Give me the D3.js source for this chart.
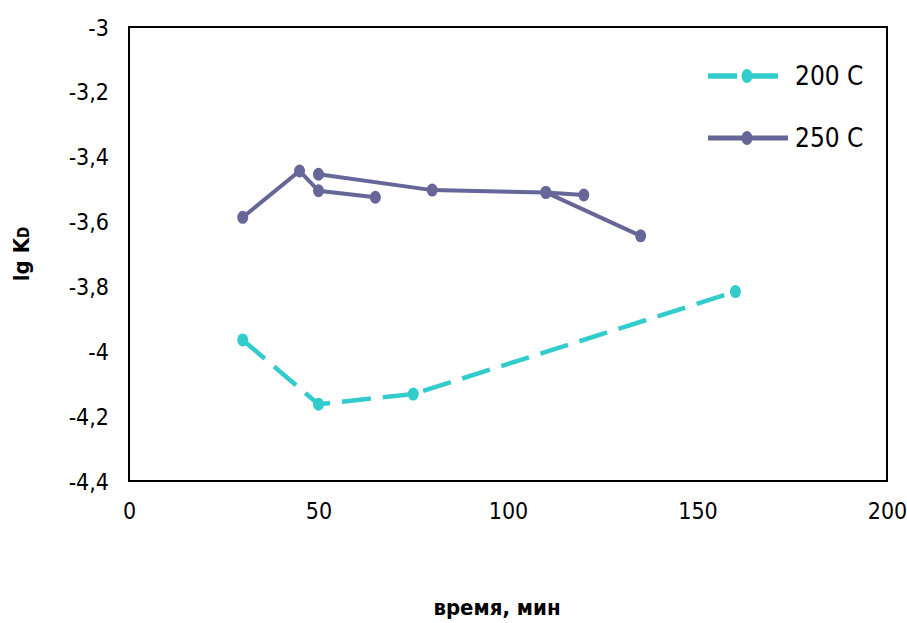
<!DOCTYPE html>
<html>
<head>
<meta charset="utf-8">
<script src="https://cdn.jsdelivr.net/npm/d3@7"></script>
<style>
  body { margin: 0; background: #fff; }
  svg text { font-family: "Liberation Sans Narrow", "DejaVu Sans Condensed", "Liberation Sans", sans-serif; fill: #000; }
</style>
</head>
<body>
<svg id="chart" width="907" height="623"></svg>
<script>
// series 200 C (dashed)
const x200 = [30, 50, 75, 160];
const y200 = [-3.965, -4.163, -4.132, -3.816];
// series 250 C (solid); null breaks the line like empty cells in the sheet
const x250 = [30, 45, 50, 65, null, 50, 80, 110, 120, null, 110, 135];
const y250 = [-3.587, -3.444, -3.505, -3.525, null, -3.454, -3.503, -3.51, -3.518, null, -3.51, -3.644];
const xTicks = [0, 50, 100, 150, 200];
const yTicks = [-3, -3.2, -3.4, -3.6, -3.8, -4, -4.2, -4.4];
const seriesNames = ['200 C', '250 C'];

const margin = { top: 27, right: 20, bottom: 142, left: 129 };
const width = 887 - margin.left;
const height = 481 - margin.top;

const svg = d3.select('#chart');
const g = svg.append('g').attr('transform', `translate(${margin.left},${margin.top})`);

const xScale = d3.scaleLinear().domain([0, 200]).range([0, width]);
const yScale = d3.scaleLinear().domain([-4.4, -3]).range([height, 0]);
const fmt = d => String(d).replace('.', ',');

// frame
g.append('rect')
    .attr('width', width)
    .attr('height', height)
    .attr('fill', 'none')
    .attr('stroke', '#000')
    .attr('stroke-width', 2);

// axes labels (no tick marks in the original)
const yAxis = g.append('g').call(d3.axisLeft(yScale).tickValues(yTicks).tickFormat(fmt).tickSize(0).tickPadding(20));
yAxis.select('.domain').remove();
yAxis.selectAll('text').style('font-size', '23px').attr('dy', '0.35em');

const xAxis = g.append('g')
    .attr('transform', `translate(0,${height})`)
    .call(d3.axisBottom(xScale).tickValues(xTicks).tickSize(0).tickPadding(38));
xAxis.select('.domain').remove();
xAxis.selectAll('text').style('font-size', '23px').attr('dy', '0');

// axis titles
svg.append('text')
    .attr('x', 497)
    .attr('y', 615)
    .attr('text-anchor', 'middle')
    .style('font-size', '22px')
    .style('font-weight', 'bold')
    .text('время, мин');

const yt = svg.append('text')
    .attr('transform', 'translate(29,254) rotate(-90)')
    .attr('text-anchor', 'middle')
    .style('font-size', '22px')
    .style('font-weight', 'bold');
yt.append('tspan').text('lg K');
yt.append('tspan').style('font-size', '15px').text('D');

const line = d3.line()
    .defined(d => d.x !== null)
    .x(d => xScale(d.x))
    .y(d => yScale(d.y));

const s200 = x200.map((x, i) => ({ x, y: y200[i] }));
const s250 = x250.map((x, i) => ({ x, y: y250[i] }));

const series = [
    { name: seriesNames[0], data: s200, color: '#33CCCC', dash: '29,12', sw: 4.5 },
    { name: seriesNames[1], data: s250, color: '#666699', dash: null, sw: 4 }
];

series.forEach(s => {
    g.append('path')
        .datum(s.data)
        .attr('d', line)
        .attr('fill', 'none')
        .attr('stroke', s.color)
        .attr('stroke-width', s.sw)
        .attr('stroke-dasharray', s.dash);

    g.append('g')
        .selectAll('ellipse')
        .data(s.data.filter(d => d.x !== null))
        .enter().append('ellipse')
            .attr('cx', d => xScale(d.x))
            .attr('cy', d => yScale(d.y))
            .attr('rx', 5.5)
            .attr('ry', 6.5)
            .attr('fill', s.color);
});

// legend
const legend = svg.append('g');
series.forEach((s, i) => {
    const ly = 76 + i * 62;
    legend.append('line')
        .attr('x1', 708).attr('x2', 788)
        .attr('y1', ly).attr('y2', ly)
        .attr('stroke', s.color)
        .attr('stroke-width', s.sw + 1)
        .attr('stroke-dasharray', s.dash ? '29,12' : null);
    legend.append('ellipse')
        .attr('cx', 747).attr('cy', ly)
        .attr('rx', 5.5).attr('ry', 7)
        .attr('fill', s.color);
    legend.append('text')
        .attr('x', 795).attr('y', ly)
        .attr('dy', '0.35em')
        .style('font-size', '26px')
        .text(s.name);
});
</script>
</body>
</html>
